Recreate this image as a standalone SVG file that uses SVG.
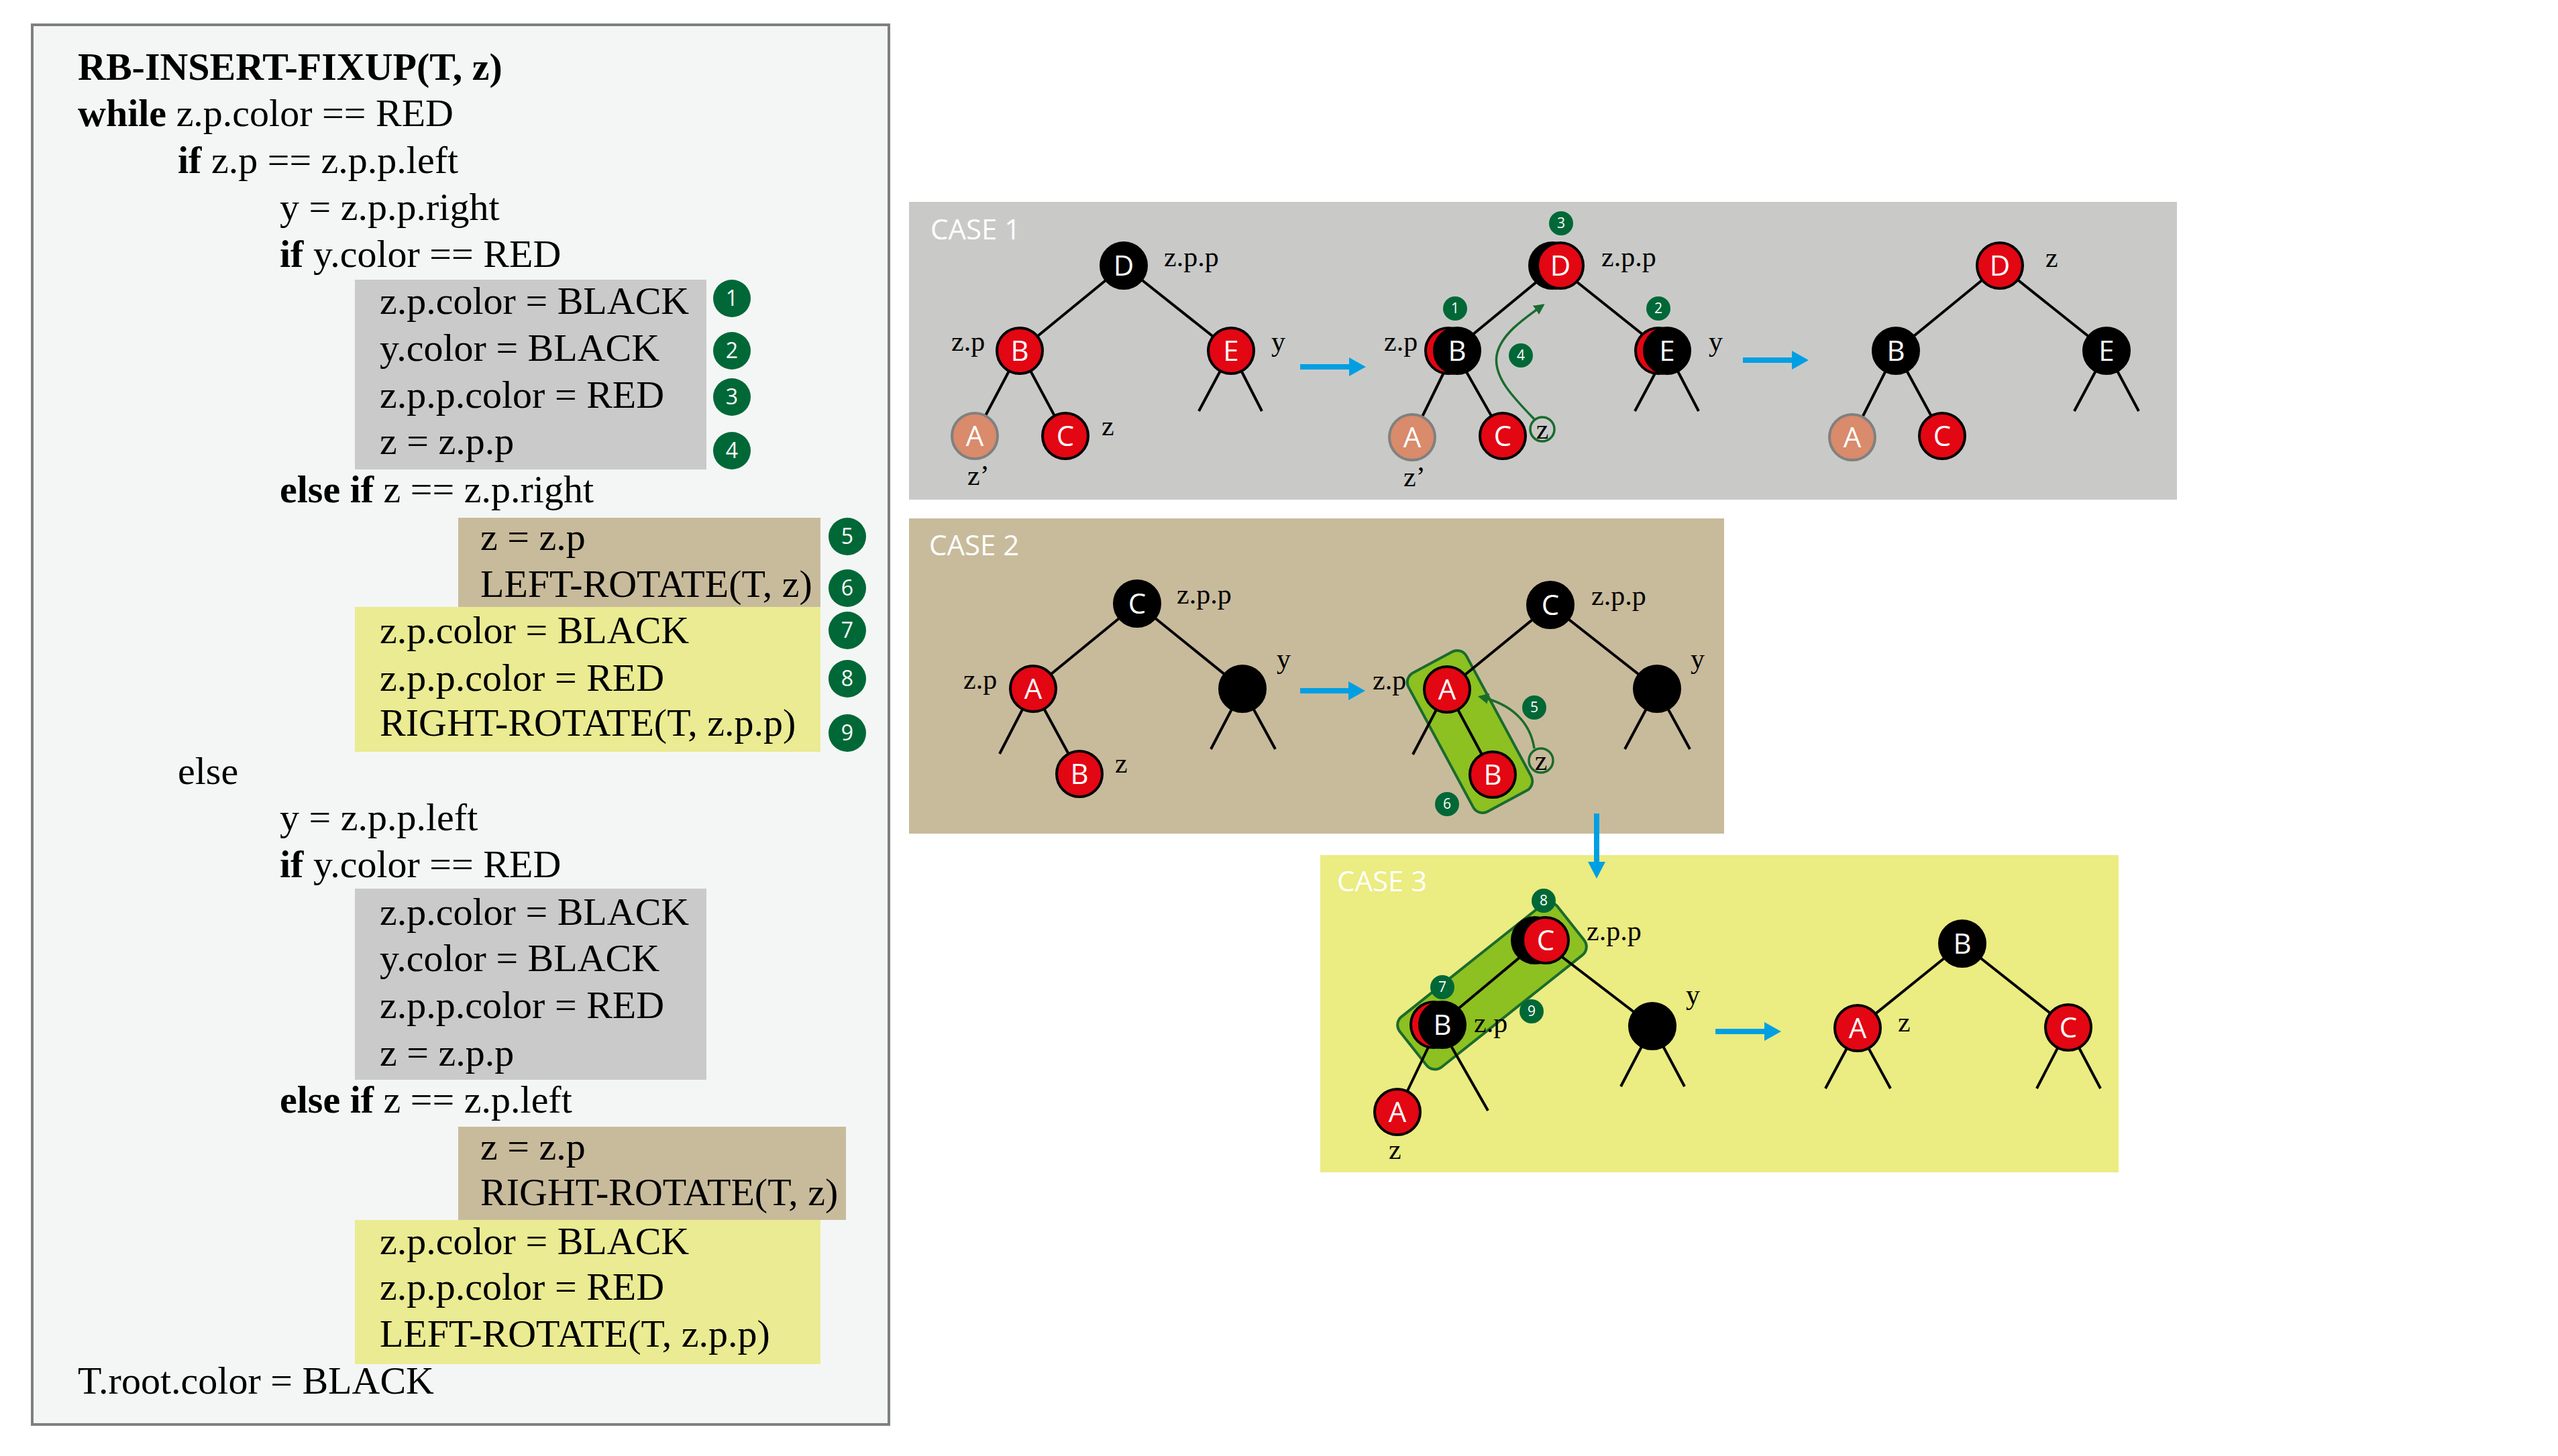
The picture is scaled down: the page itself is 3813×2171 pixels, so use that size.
<svg xmlns="http://www.w3.org/2000/svg" width="3813" height="2171" viewBox="0 0 3813 2171">
<defs>
<style>
.code{font-family:"Liberation Serif","Times New Roman",serif;font-size:58px;fill:#000}
.kw{font-weight:bold}
.lbl{font-family:"Liberation Serif","Times New Roman",serif;font-size:42px;fill:#000}
.nl{font-family:"Open Sans","Noto Sans",sans-serif;font-size:42px;fill:#fff;text-anchor:middle}
.case{font-family:"Open Sans","Noto Sans",sans-serif;font-size:42px;fill:#fff}
.bg{fill:#006837}
.bt{font-family:"Open Sans","Noto Sans",sans-serif;fill:#fff;text-anchor:middle}
.bt1{font-size:32px}
.bt2{font-size:21px}
.red{fill:#e30613;stroke:#000;stroke-width:4}
.blk{fill:#000;stroke:#000;stroke-width:4}
.sal{fill:#d98b6b;stroke:#808080;stroke-width:4}
.edge{stroke:#000;stroke-width:4;fill:none}
.blue{fill:#009fe3}
.grect{fill:#8dc021;stroke:#1a6b2e;stroke-width:4}
.gcurve{fill:none;stroke:#1a6b2e;stroke-width:3.5}
.zc{fill:none;stroke:#1a6b2e;stroke-width:3.5}
</style>
<marker id="garr" markerUnits="userSpaceOnUse" viewBox="0 0 10 10" markerWidth="16" markerHeight="16" refX="8" refY="5" orient="auto">
<path d="M0,0 L10,5 L0,10 z" fill="#1a6b2e"/>
</marker>
</defs>

<rect width="3813" height="2171" fill="#fff"/>

<!-- Left pseudo-code panel -->
<g id="code-panel">
<rect x="48" y="37" width="1277" height="2087" fill="#f4f6f5" stroke="#7f7f7f" stroke-width="4"/>
<rect x="529" y="417" width="524" height="283" fill="#c9cac9"/>
<rect x="683" y="772" width="540" height="133" fill="#c8bb9b"/>
<rect x="529" y="905" width="694" height="216" fill="#eaeb92"/>
<rect x="529" y="1325" width="524" height="285" fill="#c9cac9"/>
<rect x="683" y="1680" width="578" height="139" fill="#c8bb9b"/>
<rect x="529" y="1819" width="694" height="215" fill="#eaeb92"/>
<text class="code kw" x="116" y="119">RB-INSERT-FIXUP(T, z)</text>
<text class="code" x="116" y="188"><tspan class="kw">while</tspan> z.p.color == RED</text>
<text class="code" x="265" y="258"><tspan class="kw">if</tspan> z.p == z.p.p.left</text>
<text class="code" x="417" y="328">y = z.p.p.right</text>
<text class="code" x="417" y="398"><tspan class="kw">if</tspan> y.color == RED</text>
<text class="code" x="566" y="468">z.p.color = BLACK</text>
<text class="code" x="566" y="538">y.color = BLACK</text>
<text class="code" x="566" y="608">z.p.p.color = RED</text>
<text class="code" x="566" y="677">z = z.p.p</text>
<text class="code" x="417" y="749"><tspan class="kw">else if</tspan> z == z.p.right</text>
<text class="code" x="716" y="820">z = z.p</text>
<text class="code" x="716" y="890">LEFT-ROTATE(T, z)</text>
<text class="code" x="566" y="959">z.p.color = BLACK</text>
<text class="code" x="566" y="1030">z.p.p.color = RED</text>
<text class="code" x="566" y="1097">RIGHT-ROTATE(T, z.p.p)</text>
<text class="code" x="265" y="1169">else</text>
<text class="code" x="417" y="1238">y = z.p.p.left</text>
<text class="code" x="417" y="1308"><tspan class="kw">if</tspan> y.color == RED</text>
<text class="code" x="566" y="1379">z.p.color = BLACK</text>
<text class="code" x="566" y="1448">y.color = BLACK</text>
<text class="code" x="566" y="1518">z.p.p.color = RED</text>
<text class="code" x="566" y="1589">z = z.p.p</text>
<text class="code" x="417" y="1659"><tspan class="kw">else if</tspan> z == z.p.left</text>
<text class="code" x="716" y="1729">z = z.p</text>
<text class="code" x="716" y="1797">RIGHT-ROTATE(T, z)</text>
<text class="code" x="566" y="1870">z.p.color = BLACK</text>
<text class="code" x="566" y="1938">z.p.p.color = RED</text>
<text class="code" x="566" y="2008">LEFT-ROTATE(T, z.p.p)</text>
<text class="code" x="116" y="2078">T.root.color = BLACK</text>
</g>

<g id="code-badges">
<g id="cb1"><circle class="bg" cx="1091" cy="445" r="28"/><text class="bt bt1" x="1091" y="456">1</text></g>
<g id="cb2"><circle class="bg" cx="1091" cy="523" r="28"/><text class="bt bt1" x="1091" y="534">2</text></g>
<g id="cb3"><circle class="bg" cx="1091" cy="592" r="28"/><text class="bt bt1" x="1091" y="603">3</text></g>
<g id="cb4"><circle class="bg" cx="1091" cy="672" r="28"/><text class="bt bt1" x="1091" y="683">4</text></g>
<g id="cb5"><circle class="bg" cx="1263" cy="800" r="28"/><text class="bt bt1" x="1263" y="811">5</text></g>
<g id="cb6"><circle class="bg" cx="1263" cy="877" r="28"/><text class="bt bt1" x="1263" y="888">6</text></g>
<g id="cb7"><circle class="bg" cx="1263" cy="940" r="28"/><text class="bt bt1" x="1263" y="951">7</text></g>
<g id="cb8"><circle class="bg" cx="1263" cy="1012" r="28"/><text class="bt bt1" x="1263" y="1023">8</text></g>
<g id="cb9"><circle class="bg" cx="1263" cy="1093" r="28"/><text class="bt bt1" x="1263" y="1104">9</text></g>
</g>

<!-- Case panels -->
<g id="case1-panel"><rect x="1355" y="301" width="1890" height="444" fill="#c9cac8"/><text class="case" x="1387" y="357">CASE 1</text></g>
<g id="case2-panel"><rect x="1355" y="773" width="1215" height="470" fill="#c8bb9b"/><text class="case" x="1385" y="828">CASE 2</text></g>
<g id="case3-panel"><rect x="1968" y="1275" width="1190" height="473" fill="#ebec81"/><text class="case" x="1993" y="1329">CASE 3</text></g>

<!-- Green highlight rectangles -->
<g id="highlights">
<rect class="grect" x="-117.5" y="-49" width="235" height="98" rx="16" transform="translate(2191,1091) rotate(61.7)"/>
<rect class="grect" x="-150" y="-48" width="300" height="96" rx="16" transform="translate(2224,1470) rotate(-38.5)"/>
</g>

<!-- Connectors -->
<g id="connectors">
<!-- case 1 left -->
<line class="edge" x1="1675" y1="396" x2="1520" y2="523"/>
<line class="edge" x1="1675" y1="396" x2="1835" y2="523"/>
<line class="edge" x1="1520" y1="523" x2="1453" y2="650"/>
<line class="edge" x1="1520" y1="523" x2="1588" y2="650"/>
<line class="edge" x1="1835" y1="523" x2="1787" y2="613"/>
<line class="edge" x1="1835" y1="523" x2="1881" y2="613"/>
<!-- case 1 middle -->
<line class="edge" x1="2320" y1="396" x2="2166" y2="523"/>
<line class="edge" x1="2320" y1="396" x2="2479" y2="523"/>
<line class="edge" x1="2168" y1="523" x2="2105" y2="652"/>
<line class="edge" x1="2168" y1="523" x2="2240" y2="650"/>
<line class="edge" x1="2485" y1="523" x2="2437" y2="613"/>
<line class="edge" x1="2485" y1="523" x2="2532" y2="613"/>
<!-- case 1 right -->
<line class="edge" x1="2981" y1="396" x2="2826" y2="523"/>
<line class="edge" x1="2981" y1="396" x2="3140" y2="523"/>
<line class="edge" x1="2826" y1="523" x2="2761" y2="652"/>
<line class="edge" x1="2826" y1="523" x2="2895" y2="650"/>
<line class="edge" x1="3140" y1="523" x2="3092" y2="613"/>
<line class="edge" x1="3140" y1="523" x2="3188" y2="613"/>
<!-- case 2 left -->
<line class="edge" x1="1695" y1="900" x2="1540" y2="1027"/>
<line class="edge" x1="1695" y1="900" x2="1852" y2="1027"/>
<line class="edge" x1="1540" y1="1027" x2="1490" y2="1124"/>
<line class="edge" x1="1540" y1="1027" x2="1609" y2="1154"/>
<line class="edge" x1="1852" y1="1027" x2="1805" y2="1117"/>
<line class="edge" x1="1852" y1="1027" x2="1901" y2="1117"/>
<!-- case 2 middle -->
<line class="edge" x1="2311" y1="902" x2="2157" y2="1028"/>
<line class="edge" x1="2311" y1="902" x2="2470" y2="1027"/>
<line class="edge" x1="2157" y1="1028" x2="2106" y2="1125"/>
<line class="edge" x1="2157" y1="1028" x2="2225" y2="1155"/>
<line class="edge" x1="2470" y1="1027" x2="2422" y2="1117"/>
<line class="edge" x1="2470" y1="1027" x2="2519" y2="1117"/>
<!-- case 3 left -->
<line class="edge" x1="2296" y1="1402" x2="2145" y2="1528"/>
<line class="edge" x1="2296" y1="1402" x2="2463" y2="1530"/>
<line class="edge" x1="2145" y1="1528" x2="2083" y2="1658"/>
<line class="edge" x1="2145" y1="1528" x2="2218" y2="1656"/>
<line class="edge" x1="2463" y1="1530" x2="2416" y2="1620"/>
<line class="edge" x1="2463" y1="1530" x2="2511" y2="1620"/>
<!-- case 3 right -->
<line class="edge" x1="2925" y1="1407" x2="2769" y2="1533"/>
<line class="edge" x1="2925" y1="1407" x2="3083" y2="1532"/>
<line class="edge" x1="2769" y1="1533" x2="2721" y2="1623"/>
<line class="edge" x1="2769" y1="1533" x2="2818" y2="1623"/>
<line class="edge" x1="3083" y1="1532" x2="3036" y2="1623"/>
<line class="edge" x1="3083" y1="1532" x2="3131" y2="1623"/>
<!-- blue transition arrows -->
<path class="blue" d="M1938,543 H2011 V533 L2036,547 L2011,561 V551 H1938 Z"/>
<path class="blue" d="M2598,533 H2671 V523 L2696,537 L2671,551 V541 H2598 Z"/>
<path class="blue" d="M1938,1026 H2010 V1016 L2035,1030 L2010,1044 V1034 H1938 Z"/>
<path class="blue" d="M2557,1534 H2630 V1524 L2655,1538 L2630,1552 V1542 H2557 Z"/>
<path class="blue" d="M2376,1213 V1285 H2367 L2380,1310 L2393,1285 H2384 V1213 Z"/>
<!-- green z-move arrows -->
<path class="gcurve" d="M2287,625 C2255,592 2226,562 2231,530 C2236,500 2270,476 2300,455" marker-end="url(#garr)"/>
<path class="gcurve" d="M2287,1116 C2281,1076 2252,1049 2206,1039" marker-end="url(#garr)"/>
</g>

<!-- Case 1 left tree -->
<g id="c1L-D"><circle class="blk" cx="1675" cy="396" r="34"/><text class="nl" x="1675" y="411">D</text></g>
<g id="c1L-B"><circle class="red" cx="1520" cy="523" r="34"/><text class="nl" x="1520" y="538">B</text></g>
<g id="c1L-E"><circle class="red" cx="1835" cy="523" r="34"/><text class="nl" x="1835" y="538">E</text></g>
<g id="c1L-A"><circle class="sal" cx="1453" cy="650" r="34"/><text class="nl" x="1453" y="665">A</text></g>
<g id="c1L-C"><circle class="red" cx="1588" cy="650" r="34"/><text class="nl" x="1588" y="665">C</text></g>
<g id="c1L-labels">
<text class="lbl" x="1735" y="397">z.p.p</text>
<text class="lbl" x="1418" y="523">z.p</text>
<text class="lbl" x="1895" y="523">y</text>
<text class="lbl" x="1642" y="649">z</text>
<text class="lbl" x="1442" y="723">z’</text>
</g>

<!-- Case 1 middle tree -->
<g id="c1M-D"><circle class="blk" cx="2314" cy="396" r="34"/><circle class="red" cx="2326" cy="396" r="34"/><text class="nl" x="2326" y="411">D</text></g>
<g id="c1M-B"><circle class="red" cx="2159" cy="523" r="34"/><circle class="blk" cx="2172" cy="523" r="34"/><text class="nl" x="2172" y="538">B</text></g>
<g id="c1M-E"><circle class="red" cx="2472" cy="523" r="34"/><circle class="blk" cx="2485" cy="523" r="34"/><text class="nl" x="2485" y="538">E</text></g>
<g id="c1M-A"><circle class="sal" cx="2105" cy="652" r="34"/><text class="nl" x="2105" y="667">A</text></g>
<g id="c1M-C"><circle class="red" cx="2240" cy="650" r="34"/><text class="nl" x="2240" y="665">C</text></g>
<g id="c1M-z"><circle class="zc" cx="2299" cy="640" r="18"/><text class="lbl" x="2299" y="654" text-anchor="middle">z</text></g>
<g id="c1M-labels">
<text class="lbl" x="2387" y="397">z.p.p</text>
<text class="lbl" x="2063" y="523">z.p</text>
<text class="lbl" x="2547" y="523">y</text>
<text class="lbl" x="2092" y="725">z’</text>
</g>
<g id="c1M-badges">
<g id="b3a"><circle class="bg" cx="2327" cy="333" r="18"/><text class="bt bt2" x="2327" y="340">3</text></g>
<g id="b1a"><circle class="bg" cx="2169" cy="460" r="18"/><text class="bt bt2" x="2169" y="467">1</text></g>
<g id="b2a"><circle class="bg" cx="2472" cy="460" r="18"/><text class="bt bt2" x="2472" y="467">2</text></g>
<g id="b4a"><circle class="bg" cx="2267" cy="530" r="18"/><text class="bt bt2" x="2267" y="537">4</text></g>
</g>

<!-- Case 1 right tree -->
<g id="c1R-D"><circle class="red" cx="2981" cy="396" r="34"/><text class="nl" x="2981" y="411">D</text></g>
<g id="c1R-B"><circle class="blk" cx="2826" cy="523" r="34"/><text class="nl" x="2826" y="538">B</text></g>
<g id="c1R-E"><circle class="blk" cx="3140" cy="523" r="34"/><text class="nl" x="3140" y="538">E</text></g>
<g id="c1R-A"><circle class="sal" cx="2761" cy="652" r="34"/><text class="nl" x="2761" y="667">A</text></g>
<g id="c1R-C"><circle class="red" cx="2895" cy="650" r="34"/><text class="nl" x="2895" y="665">C</text></g>
<g id="c1R-labels"><text class="lbl" x="3049" y="398">z</text></g>

<!-- Case 2 left tree -->
<g id="c2L-C"><circle class="blk" cx="1695" cy="900" r="34"/><text class="nl" x="1695" y="915">C</text></g>
<g id="c2L-A"><circle class="red" cx="1540" cy="1027" r="34"/><text class="nl" x="1540" y="1042">A</text></g>
<g id="c2L-y"><circle class="blk" cx="1852" cy="1027" r="34"/></g>
<g id="c2L-B"><circle class="red" cx="1609" cy="1154" r="34"/><text class="nl" x="1609" y="1169">B</text></g>
<g id="c2L-labels">
<text class="lbl" x="1754" y="900">z.p.p</text>
<text class="lbl" x="1436" y="1027">z.p</text>
<text class="lbl" x="1903" y="996">y</text>
<text class="lbl" x="1662" y="1152">z</text>
</g>

<!-- Case 2 middle tree -->
<g id="c2M-C"><circle class="blk" cx="2311" cy="902" r="34"/><text class="nl" x="2311" y="917">C</text></g>
<g id="c2M-A"><circle class="red" cx="2157" cy="1028" r="34"/><text class="nl" x="2157" y="1043">A</text></g>
<g id="c2M-B"><circle class="red" cx="2225" cy="1155" r="34"/><text class="nl" x="2225" y="1170">B</text></g>
<g id="c2M-y"><circle class="blk" cx="2470" cy="1027" r="34"/></g>
<g id="c2M-z"><circle class="zc" cx="2297" cy="1134" r="18"/><text class="lbl" x="2297" y="1148" text-anchor="middle">z</text></g>
<g id="c2M-labels">
<text class="lbl" x="2372" y="902">z.p.p</text>
<text class="lbl" x="2046" y="1028">z.p</text>
<text class="lbl" x="2520" y="996">y</text>
</g>
<g id="c2M-badges">
<g id="b5a"><circle class="bg" cx="2287" cy="1055" r="18"/><text class="bt bt2" x="2287" y="1062">5</text></g>
<g id="b6a"><circle class="bg" cx="2157" cy="1199" r="18"/><text class="bt bt2" x="2157" y="1206">6</text></g>
</g>

<!-- Case 3 left tree -->
<g id="c3L-C"><circle class="blk" cx="2288" cy="1402" r="34"/><circle class="red" cx="2304" cy="1402" r="34"/><text class="nl" x="2304" y="1417">C</text></g>
<g id="c3L-B"><circle class="red" cx="2137" cy="1528" r="34"/><circle class="blk" cx="2150" cy="1528" r="34"/><text class="nl" x="2150" y="1543">B</text></g>
<g id="c3L-A"><circle class="red" cx="2083" cy="1658" r="34"/><text class="nl" x="2083" y="1673">A</text></g>
<g id="c3L-y"><circle class="blk" cx="2463" cy="1530" r="34"/></g>
<g id="c3L-labels">
<text class="lbl" x="2365" y="1402">z.p.p</text>
<text class="lbl" x="2197" y="1539">z.p</text>
<text class="lbl" x="2513" y="1497">y</text>
<text class="lbl" x="2070" y="1728">z</text>
</g>
<g id="c3L-badges">
<g id="b8a"><circle class="bg" cx="2301" cy="1343" r="18"/><text class="bt bt2" x="2301" y="1350">8</text></g>
<g id="b7a"><circle class="bg" cx="2150" cy="1472" r="18"/><text class="bt bt2" x="2150" y="1479">7</text></g>
<g id="b9a"><circle class="bg" cx="2283" cy="1508" r="18"/><text class="bt bt2" x="2283" y="1515">9</text></g>
</g>

<!-- Case 3 right tree -->
<g id="c3R-B"><circle class="blk" cx="2925" cy="1407" r="34"/><text class="nl" x="2925" y="1422">B</text></g>
<g id="c3R-A"><circle class="red" cx="2769" cy="1533" r="34"/><text class="nl" x="2769" y="1548">A</text></g>
<g id="c3R-C"><circle class="red" cx="3083" cy="1532" r="34"/><text class="nl" x="3083" y="1547">C</text></g>
<g id="c3R-labels"><text class="lbl" x="2829" y="1538">z</text></g>
</svg>
